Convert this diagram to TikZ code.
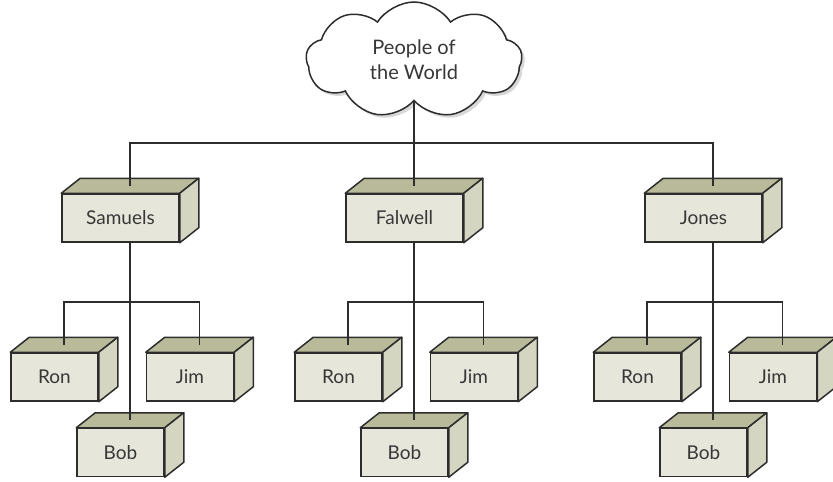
\documentclass[tikz,border=0pt]{standalone}
\usepackage{fontspec}
\setmainfont{Lato}
\usepackage{xcolor}
\usetikzlibrary{shapes.symbols, shadows, calc}
\definecolor{frontc}{RGB}{230,230,218}
\definecolor{topc}{RGB}{184,186,154}
\definecolor{sidec}{RGB}{213,214,193}
\definecolor{edge}{RGB}{45,45,45}
\definecolor{ink}{RGB}{55,55,55}

\tikzset{
  box/.style={draw=edge, fill=frontc, line width=0.75pt, text=ink, inner sep=0pt,
    minimum height=24pt, font=\fontsize{9.5}{11}\selectfont},
  bigbox/.style={box, minimum width=58.5pt},
  smallbox/.style={box, minimum width=43.5pt},
  topface/.style={draw=edge, fill=topc, line width=0.75pt, line join=round},
  sideface/.style={draw=edge, fill=sidec, line width=0.75pt, line join=round},
  link/.style={draw=edge, line width=0.6pt}
}

\begin{document}
\begin{tikzpicture}[x=0.5pt, y=-0.5pt]
  \useasboundingbox (0,0) rectangle (833,481);
  % Root
  \node[cloud, cloud puffs=9, cloud puff arc=115, aspect=1.8, draw=edge, line width=0.75pt,
    fill=white, drop shadow={shadow xshift=1.5pt, shadow yshift=-1.5pt, fill=black!30},
    minimum width=108pt, minimum height=58pt, align=center, text=ink,
    font=\fontsize{10}{12.5}\selectfont] (world) at (414,60) {People of\\the World};
  % Families and their members
  \foreach \fam/\name/\L in {sam/Samuels/130, fal/Falwell/414, jon/Jones/713} {
    \node[bigbox] (\fam) at (\L-9.5,218) {\name};
    \node[smallbox] (\fam-ron) at (\L-75.5,377) {Ron};
    \node[smallbox] (\fam-jim) at (\L+60,377) {Jim};
    \node[smallbox] (\fam-bob) at (\L-9.5,452.5) {Bob};
    \coordinate (\fam-br) at (\L,302);
  }
  % Top and side faces
  \foreach \b in {sam,fal,jon,sam-ron,sam-jim,sam-bob,fal-ron,fal-jim,fal-bob,jon-ron,jon-jim,jon-bob} {
    \path[topface] (\b.north west) -- ++(19,-15) -- ($(\b.north east)+(19,-15)$) -- (\b.north east) -- cycle;
    \path[sideface] (\b.north east) -- ++(19,-15) -- ($(\b.south east)+(19,-15)$) -- (\b.south east) -- cycle;
    \coordinate (\b-t) at ($(\b.north)+(9.5,-7.5)$);
  }
  % Connectors
  \coordinate (hub) at (414,143);
  \draw[link] (hub |- world.south) -- (hub);
  \draw[link] (sam-t) |- (hub) -| (jon-t);
  \draw[link] (hub) -- (fal-t);
  \foreach \fam in {sam,fal,jon} {
    \draw[link] (\fam-bob-t |- \fam.south) -- (\fam-bob-t);
    \draw[link] (\fam-ron-t) |- (\fam-br) -| (\fam-jim-t);
  }
\end{tikzpicture}
\end{document}
